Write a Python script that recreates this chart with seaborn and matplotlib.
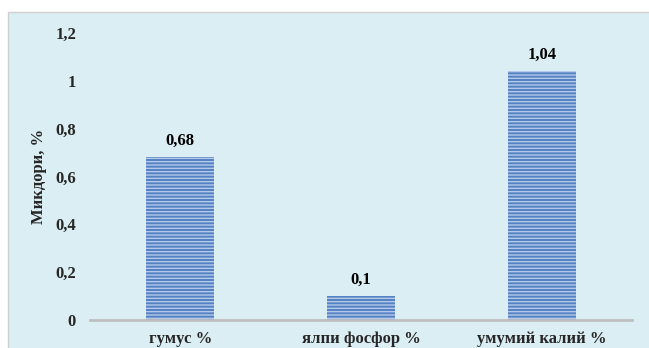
import pandas as pd
import matplotlib
matplotlib.use('Agg')
import matplotlib.pyplot as plt
from matplotlib.patches import Rectangle
from matplotlib.ticker import FuncFormatter
import seaborn as sns

# Маълумотҳо
categories = ['гумус %', 'ялпи фосфор %', 'умумий калий %']
values = [0.68, 0.1, 1.04]
value_labels = ['0,68', '0,1', '1,04']
y_ticks = [0, 0.2, 0.4, 0.6, 0.8, 1.0, 1.2]

BG = '#DAEEF3'
FS = 12

sns.set_theme(style='white')
plt.rcParams['font.family'] = ['Liberation Serif', 'DejaVu Serif']
plt.rcParams['font.weight'] = 'bold'
plt.rcParams['hatch.linewidth'] = 1.0

fig = plt.figure(figsize=(6.49, 3.48), dpi=100)
fig.patch.set_facecolor('white')
# рамкаи диаграмма (дар зер)
frame = Rectangle((8 / 649, -0.01), 1.0, 1 - 12 / 348 + 0.01,
                  transform=fig.transFigure, facecolor=BG,
                  edgecolor='#cfcfcf', linewidth=1.0, zorder=-10)
fig.add_artist(frame)

ax = fig.add_axes([90 / 649, 28 / 348, 542 / 649, 287 / 348])
ax.set_facecolor('none')
ax.set_zorder(1)

df = pd.DataFrame({'cat': categories, 'val': values})
sns.barplot(data=df, x='cat', y='val', color='#5482c2', width=0.375,
            saturation=1, ax=ax, zorder=2)

for bar in ax.patches:
    bar.set_hatch('-----')
    bar.set_edgecolor('#b4c9ea')
    bar.set_linewidth(0)

for bar, lbl in zip(ax.patches, value_labels):
    ax.annotate(lbl, (bar.get_x() + bar.get_width() / 2, bar.get_height()),
                xytext=(0, 6), textcoords='offset points', ha='center', va='bottom',
                fontsize=FS, fontweight='bold', color='black')

ax.set_ylim(0, 1.2)
ax.set_yticks(y_ticks)
ax.yaxis.set_major_formatter(FuncFormatter(lambda v, p: f'{v:g}'.replace('.', ',')))
ax.set_xlabel('')
ax.set_ylabel('Микдори, %', fontsize=FS, fontweight='bold', labelpad=6)

for s in ['top', 'right', 'left']:
    ax.spines[s].set_visible(False)
ax.spines['bottom'].set_color('#bfbfbf')
ax.spines['bottom'].set_linewidth(2)
ax.tick_params(axis='both', length=0, labelsize=FS)
ax.tick_params(axis='y', pad=10)
ax.tick_params(axis='x', pad=8)
for t in ax.get_xticklabels() + ax.get_yticklabels():
    t.set_fontweight('bold')

fig.savefig('out.png', dpi=100)
